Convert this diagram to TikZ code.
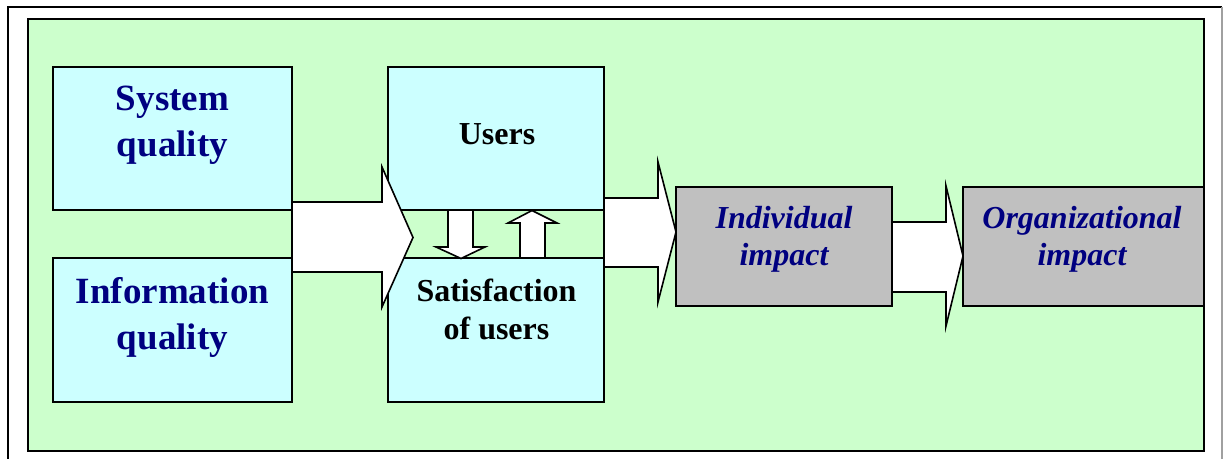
\documentclass[tikz,border=0pt]{standalone}
\usepackage{fontspec}
\setmainfont{Liberation Serif}
\definecolor{bggreen}{HTML}{CCFFCC}
\definecolor{boxcyan}{HTML}{CCFFFF}
\definecolor{boxgrey}{HTML}{C0C0C0}
\definecolor{navytext}{HTML}{000080}
\definecolor{framegrey}{HTML}{A0A0A0}
\begin{document}
\begin{tikzpicture}[x=0.5pt,y=-0.5pt,
  cbox/.style={draw=black, line width=1pt, fill=boxcyan, inner sep=0pt},
  gbox/.style={draw=black, line width=1pt, fill=boxgrey, inner sep=0pt},
  bigtxt/.style={inner sep=0pt, align=center, text=navytext, font=\fontsize{18.5}{23}\selectfont\bfseries},
  smalltxt/.style={inner sep=0pt, align=center, text=black, font=\fontsize{16}{19}\selectfont\bfseries},
  imptxt/.style={inner sep=0pt, align=center, text=navytext, font=\fontsize{16}{18.5}\selectfont\bfseries\itshape},
  blockarrow/.style={draw=black, line width=0.8pt, fill=white, line join=miter}]
\useasboundingbox (0,0) rectangle (1224,459);
% outer frame
\draw[line width=1pt, black] (8,459) -- (8,7) -- (1222,7);
\draw[line width=0.6pt, framegrey] (1222,7) -- (1222,459);
% green panel
\draw[line width=1pt, fill=bggreen] (28,19) rectangle (1204,451);
% boxes
\node[cbox, minimum width=119.5pt, minimum height=71.5pt] (sysq) at (172.5,138.5) {};
\node[cbox, minimum width=119.5pt, minimum height=72pt] (infq) at (172.5,330) {};
\node[cbox, minimum width=108pt, minimum height=71.5pt] (users) at (496,138.5) {};
\node[cbox, minimum width=108pt, minimum height=72pt] (sat) at (496,330) {};
\node[gbox, minimum width=108pt, minimum height=59.5pt] (indiv) at (784,246.5) {};
\node[gbox, minimum width=120.5pt, minimum height=59.5pt] (org) at (1083.5,246.5) {};
% block arrows
\draw[blockarrow] (292,202) -- (382,202) -- (382,167) -- (413,237.5) -- (382,307) -- (382,272) -- (292,272) -- cycle;
\draw[blockarrow] (604,198) -- (658,198) -- (658,162) -- (676,232) -- (658,302) -- (658,267) -- (604,267) -- cycle;
\draw[blockarrow] (892,222) -- (946,222) -- (946,186) -- (963,256) -- (946,326) -- (946,292) -- (892,292) -- cycle;
% small arrows between users and satisfaction
\draw[blockarrow] (448,210) -- (473,210) -- (473,247) -- (485,247) -- (461,258.5) -- (436,247) -- (448,247) -- cycle;
\draw[blockarrow] (520,258) -- (545,258) -- (545,223) -- (557,223) -- (532,210.5) -- (508,223) -- (520,223) -- cycle;
% texts
\node[bigtxt] (tsysq) at (172.5,125) {System\\quality};
\node[bigtxt] (tinfq) at (172.5,317) {Information\\quality};
\node[smalltxt] (tusers) at (497,134) {Users};
\node[smalltxt] (tsat) at (496.5,309) {Satisfaction\\of users};
\node[imptxt] (tindiv) at (784,239) {Individual\\impact};
\node[imptxt] (torg) at (1082,239) {Organizational\\impact};
\end{tikzpicture}
\end{document}
